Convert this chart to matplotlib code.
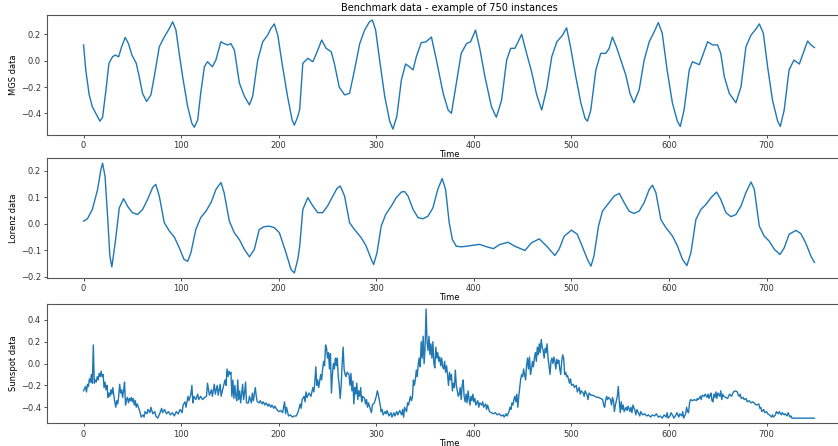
import matplotlib
matplotlib.use("Agg")
import matplotlib.pyplot as plt

# ---------------------------------------------------------------- data
mgs_t = [0, 2.4, 5.8, 9, 12.6, 16.8, 19.5, 23, 26, 29.7, 32.5, 36, 39, 42.7, 46, 49.6,
         54, 57, 60.5, 64.6, 69, 72.5, 77.6, 82.7, 87.9, 91.3, 94.7, 98, 101.5, 106.7,
         111, 113.5, 117, 120, 123.8, 127, 132, 135.6, 140.7, 144, 147.7, 151, 154.6,
         159.7, 164.8, 170, 173.3, 178.5, 183.6, 188.7, 192, 195.5, 199, 204, 209,
         213.7, 216, 219.5, 221.5, 224.7, 229.8, 235, 240, 244, 248.6, 253.8, 257, 262,
         267.5, 272.6, 277.7, 283, 288, 293, 296, 299.3, 303.4, 308.6, 313.7, 317, 321,
         325.7, 330, 334, 337.7, 341, 346, 351, 356.5, 361.6, 368.5, 373.6, 377, 382,
         387, 392.5, 396.6, 401.7, 406, 411.3, 418, 423, 428.4, 433.6, 437.7, 442, 449,
         454, 459, 464.4, 469.5, 474.7, 479.8, 485, 490.5, 495, 499, 504.4, 509.6, 514,
         516.4, 519.8, 525, 530, 535.2, 538.6, 542, 546, 550.6, 555.7, 560, 564, 569.4,
         574.5, 579.7, 584.8, 589, 593, 598, 603.4, 608.5, 611.5, 615.4, 620.7, 624,
         631, 634, 639.5, 644.6, 649.7, 653, 656.6, 661.7, 668.5, 673.7, 678.8, 684,
         689, 692.5, 696.6, 701, 706, 711.3, 714, 718, 723, 728, 733.5, 738.6, 742,
         745.5, 749]
mgs_y = [0.12, -0.08, -0.26, -0.35, -0.40, -0.46, -0.43, -0.22, -0.02, 0.03, 0.043, 0.03,
         0.106, 0.177, 0.13, 0.043, -0.02, -0.12, -0.25, -0.31, -0.26, -0.12, 0.106,
         0.18, 0.245, 0.296, 0.233, 0.056, -0.12, -0.35, -0.476, -0.506, -0.45, -0.25,
         -0.046, -0.008, -0.046, 0.005, 0.144, 0.13, 0.12, 0.13, 0.08, -0.17, -0.27,
         -0.336, -0.27, 0.005, 0.144, 0.195, 0.245, 0.28, 0.195, -0.046, -0.27, -0.45,
         -0.49, -0.425, -0.37, -0.02, 0.018, -0.008, 0.08, 0.157, 0.094, 0.068, -0.02,
         -0.2, -0.26, -0.248, -0.07, 0.13, 0.233, 0.296, 0.309, 0.233, 0.005, -0.27,
         -0.46, -0.52, -0.425, -0.147, -0.025, -0.046, -0.07, 0.03, 0.137, 0.144, 0.18,
         0.005, -0.248, -0.375, -0.4, -0.17, 0.056, 0.13, 0.144, 0.233, 0.094, -0.12,
         -0.35, -0.43, -0.3, 0.005, 0.094, 0.094, 0.2, 0.056, -0.08, -0.26, -0.375,
         -0.21, 0.03, 0.144, 0.19, 0.25, 0.106, -0.12, -0.32, -0.44, -0.46, -0.375,
         -0.07, 0.056, 0.056, 0.094, 0.18, 0.106, 0.005, -0.11, -0.25, -0.32, -0.22,
         0.005, 0.144, 0.22, 0.29, 0.21, -0.07, -0.32, -0.46, -0.5, -0.375, -0.07,
         -0.008, -0.03, 0.03, 0.144, 0.12, 0.12, 0.056, -0.12, -0.248, -0.32, -0.2,
         0.106, 0.195, 0.24, 0.28, 0.21, -0.046, -0.3, -0.46, -0.5, -0.375, -0.07,
         0.005, -0.025, 0.08, 0.15, 0.12, 0.1]

lor_t = [0, 4, 9, 14.4, 17.8, 19.5, 22, 24.6, 27, 29, 32.5, 36.6, 41, 45, 50, 55.4, 60.5,
         65.6, 70.8, 74, 77.6, 82.7, 88, 93, 98, 103, 106.7, 110, 115, 120, 125.5,
         130.6, 135.7, 140.8, 144, 149.4, 154.5, 159.7, 164.8, 170, 175, 180, 185,
         190.4, 195.6, 200.7, 207.5, 212.6, 216, 219.5, 221.5, 224.7, 229.8, 235, 240,
         245, 250, 255.5, 259.6, 263, 267.5, 272.6, 277.7, 284.6, 289.7, 294.9, 297.3,
         300.7, 305, 309.6, 315.4, 320.5, 325.7, 329, 332.5, 337.7, 342.8, 348, 353,
         358, 363, 367.5, 371, 374.7, 378, 382, 387, 392.5, 399.3, 406, 413, 420,
         426.7, 435, 442, 452.4, 459, 467, 474.7, 483, 487.5, 492.5, 500, 506, 511,
         516.4, 520, 523, 527.7, 531.8, 538.6, 543.8, 549, 554, 559, 564, 569.4,
         574.5, 579.7, 583, 586.5, 591.6, 596.8, 603.6, 608.7, 613.8, 618.3, 622.4,
         627.5, 632.6, 637.8, 643, 648.7, 653, 658.3, 663.4, 668.5, 673.7, 678.8, 684,
         687.4, 692.5, 697.6, 702.7, 708, 713.7, 718, 723, 730, 735, 740, 745.5, 749]
lor_y = [0.01, 0.019, 0.054, 0.13, 0.206, 0.229, 0.18, 0.03, -0.123, -0.163, -0.07, 0.06,
         0.095, 0.067, 0.042, 0.035, 0.054, 0.092, 0.137, 0.149, 0.105, 0.004, -0.028,
         -0.05, -0.09, -0.135, -0.142, -0.11, -0.022, 0.023, 0.048, 0.08, 0.13, 0.156,
         0.118, 0.01, -0.034, -0.06, -0.097, -0.125, -0.097, -0.022, -0.011, -0.009,
         -0.015, -0.034, -0.11, -0.173, -0.186, -0.135, -0.085, 0.054, 0.099, 0.067,
         0.042, 0.042, 0.067, 0.105, 0.133, 0.143, 0.105, 0.004, -0.022, -0.053,
         -0.085, -0.135, -0.154, -0.11, -0.009, 0.035, 0.067, 0.099, 0.12, 0.122,
         0.105, 0.054, 0.023, 0.019, 0.029, 0.06, 0.13, 0.171, 0.13, 0.004, -0.06,
         -0.085, -0.087, -0.085, -0.081, -0.078, -0.087, -0.094, -0.078, -0.07,
         -0.085, -0.101, -0.072, -0.057, -0.085, -0.12, -0.095, -0.047, -0.024, -0.04,
         -0.085, -0.135, -0.16, -0.123, -0.009, 0.048, 0.08, 0.105, 0.115, 0.08, 0.048,
         0.039, 0.048, 0.08, 0.13, 0.146, 0.118, 0.016, -0.015, -0.047, -0.085,
         -0.135, -0.158, -0.11, 0.016, 0.054, 0.073, 0.099, 0.12, 0.092, 0.042, 0.027,
         0.035, 0.067, 0.118, 0.158, 0.13, -0.009, -0.047, -0.066, -0.097, -0.116,
         -0.091, -0.04, -0.025, -0.037, -0.072, -0.123, -0.146]

sun_t = [0, 2, 3, 4, 5, 6, 7, 8, 9, 10, 11, 12, 13, 14, 15, 16, 17, 18, 19, 20, 21, 22, 23,
         24, 25, 26, 27, 28, 29, 30, 31, 32, 33, 34, 35, 36, 37, 38, 39, 40, 41, 42, 43,
         44, 45, 46, 47, 48, 49, 50, 51, 52, 53, 54, 55, 57, 58, 59, 61, 62, 63, 65, 66,
         68, 69, 71, 73, 74, 76, 78, 80, 81, 83, 85, 87, 89, 91, 93, 95, 97, 99, 101,
         102, 104, 105, 107, 108, 110, 111, 112, 113, 115, 117, 118, 120, 122, 124,
         126, 127, 129, 131, 132, 134, 135, 137, 138, 140, 141, 143, 145, 146, 147,
         148, 149, 150, 151, 152, 153, 154, 155, 156, 157, 158, 159, 160, 161, 163,
         164, 165, 166, 167, 169, 170, 172, 173, 174, 176, 177, 178, 180, 181, 183,
         184, 186, 187, 189, 190, 192, 193, 195, 196, 198, 200, 202, 204, 206, 207,
         208, 210, 212, 214, 216, 218,
         220, 222, 223, 224, 226, 227, 228, 229, 231, 233, 235, 236, 237, 238, 239,
         240, 241, 243, 244, 245, 246, 247, 248, 249, 250, 251, 252, 253, 254, 255,
         256, 257, 258, 259, 260, 261, 262, 263, 264, 265, 266, 267, 268, 269, 270,
         271, 272, 273, 274, 275, 276, 277, 278, 279, 280, 281, 282, 283, 284, 285,
         286, 288, 289, 290, 291, 292, 294, 295, 296, 298, 299, 300, 301, 302, 303,
         304, 305, 306, 307, 309, 310, 311, 313, 315, 316, 318, 319, 321, 322, 324,
         326, 327, 328, 329, 331, 332, 333, 335, 336, 337, 338, 339, 340, 341, 342,
         343, 344, 345, 346, 347, 348, 349, 350, 351, 352, 353, 354, 355, 356, 357,
         358, 359, 360, 361, 362, 363, 364, 365, 366, 367, 368, 369, 370, 371, 372,
         373, 374, 375, 376, 377, 378, 379, 380, 381, 382, 383, 384, 385, 386, 387,
         388, 389, 390, 391, 392, 393, 394, 395, 396, 397, 398, 399, 400, 401, 402,
         404, 405, 406, 408, 409, 410, 412, 413, 414, 416, 418, 420, 422, 424, 426,
         428, 430, 431, 433, 434, 436, 437, 438, 439, 440, 441, 442, 443, 444, 445,
         446, 447, 448, 449, 450, 451, 452, 453, 454, 455, 456, 457, 458, 459, 460,
         461, 462, 463, 464, 465, 466, 467, 468, 469, 470, 471, 472, 473, 474, 475,
         476, 477, 478, 479, 480, 481, 482, 483, 484, 485, 486, 487, 488, 489, 490,
         491, 492, 493, 494, 495, 496, 498, 499, 500, 502, 503, 505, 506, 508, 509,
         510, 512, 513, 514, 516, 517, 518, 520, 522, 524, 526, 528, 530, 532, 533,
         534, 535, 536, 537, 538, 540, 541, 542, 543, 544, 545, 547, 548, 549, 550,
         551, 552, 553, 554, 556, 557, 558, 560, 561, 562, 563, 565, 566, 567, 569,
         570, 571, 573, 575, 577, 579, 581, 583, 585, 587, 589, 591, 593, 595, 597,
         598, 599, 601, 602, 604, 605, 607, 608, 610, 611, 613, 614, 615, 617, 618,
         619, 620, 621, 622, 624, 626, 628, 629, 630, 632, 633, 634, 636, 637, 639,
         640, 641, 642, 643, 644, 645, 646, 647, 648, 649, 650, 652, 653, 654, 655,
         656, 658, 660, 662, 664, 666, 668, 670, 671, 672, 673, 674, 676, 677, 679,
         680, 682, 684, 686, 688, 690, 692, 693, 694, 695, 697, 698, 700, 701, 703,
         705, 706, 707, 709, 710, 712, 713, 715, 716, 718, 719, 721, 722, 724, 725,
         726, 749]
sun_y = [-0.25, -0.21, -0.26, -0.19, -0.21, -0.14, -0.17, -0.10, -0.18, 0.17, -0.18, -0.15,
         -0.17, -0.12, -0.15, -0.09, -0.12, -0.07, -0.12, -0.10, -0.22, -0.17, -0.24,
         -0.20, -0.31, -0.27, -0.30, -0.24, -0.28, -0.22, -0.29, -0.35, -0.40, -0.34,
         -0.37, -0.30, -0.19, -0.27, -0.24, -0.31, -0.25, -0.17, -0.38, -0.33, -0.31,
         -0.36, -0.32, -0.34, -0.31, -0.35, -0.32, -0.38, -0.34, -0.40, -0.37, -0.42,
         -0.45, -0.49, -0.47, -0.49, -0.44, -0.46, -0.42, -0.45, -0.40, -0.46, -0.44,
         -0.48, -0.50, -0.46, -0.41, -0.45, -0.42, -0.46, -0.44, -0.47, -0.45, -0.48,
         -0.44, -0.46, -0.42, -0.45, -0.38, -0.35, -0.40, -0.30, -0.34, -0.28, -0.20,
         -0.36, -0.30, -0.33, -0.28, -0.33, -0.30, -0.33, -0.31, -0.30, -0.18, -0.29,
         -0.24, -0.30, -0.19, -0.28, -0.20, -0.29, -0.19, -0.30, -0.22, -0.15, -0.20,
         -0.05, -0.12, -0.07, -0.10, -0.08, -0.30, -0.15, -0.32, -0.20, -0.30, -0.34,
         -0.15, -0.33, -0.25, -0.36, -0.19, -0.33, -0.27, -0.17, -0.36, -0.36, -0.30,
         -0.36, -0.27, -0.34, -0.22, -0.30, -0.35, -0.36, -0.34, -0.37, -0.35, -0.38,
         -0.36, -0.39, -0.37, -0.40, -0.38, -0.41, -0.39, -0.42, -0.44, -0.43, -0.45,
         -0.35, -0.46, -0.40, -0.48, -0.47, -0.49, -0.48, -0.48,
         -0.44, -0.37, -0.41, -0.33, -0.30, -0.35, -0.26, -0.31, -0.27,
         -0.30, -0.22, -0.26, -0.17, -0.03, -0.20, -0.15, -0.22, -0.10, -0.15, -0.05,
         0.02, -0.02, 0.17, 0.14, 0.05, 0.10, -0.05, 0.09, -0.27, -0.10, 0.00, -0.05,
         0.05, -0.02, 0.05, -0.12, -0.20, -0.32, -0.20, 0.00, 0.15, -0.05, -0.10,
         -0.12, -0.08, -0.09, -0.10, -0.20, -0.09, -0.25, -0.16, -0.37, -0.22, -0.28,
         -0.18, -0.33, -0.25, -0.30, -0.22, -0.35, -0.30, -0.32, -0.37, -0.33, -0.40,
         -0.36, -0.42, -0.45, -0.38, -0.36, -0.33, -0.30, -0.25, -0.28, -0.33, -0.38,
         -0.44, -0.42, -0.47, -0.44, -0.46, -0.43, -0.48, -0.45, -0.49, -0.45, -0.48,
         -0.44, -0.47, -0.43, -0.47, -0.42, -0.49, -0.40, -0.44, -0.36, -0.38, -0.30,
         -0.34, -0.31, -0.15, -0.20, -0.15, -0.06, -0.12, 0.00, 0.05, -0.03, 0.20,
         0.05, 0.25, 0.00, 0.15, 0.50, 0.20, 0.12, 0.25, 0.08, 0.18, 0.05, 0.20, 0.00,
         -0.04, 0.15, 0.05, 0.10, 0.02, 0.06, -0.02, 0.05, -0.03, -0.05, 0.02, -0.08,
         -0.02, -0.10, -0.20, -0.08, -0.15, -0.10, -0.25, -0.18, -0.22, -0.06, -0.20,
         -0.25, -0.30, -0.28, -0.22, -0.33, -0.20, -0.15, -0.30, -0.35, -0.28, -0.36,
         -0.25, -0.32, -0.38, -0.30, -0.34, -0.28, -0.35, -0.32, -0.38, -0.34, -0.40,
         -0.36, -0.38, -0.35, -0.40, -0.37, -0.42, -0.38, -0.44, -0.45, -0.46, -0.45,
         -0.47, -0.46, -0.48, -0.47, -0.49, -0.46, -0.48, -0.44, -0.40, -0.42, -0.36,
         -0.38, -0.33, -0.30, -0.35, -0.28, -0.40, -0.30, -0.22, -0.14, -0.10, -0.12,
         -0.05, -0.10, -0.15, -0.02, 0.05, -0.05, 0.06, -0.10, -0.05, 0.02, -0.03, 0.05,
         0.10, 0.02, 0.15, 0.08, 0.18, 0.10, 0.22, 0.15, 0.12, 0.05, 0.14, 0.10, 0.18,
         0.05, -0.02, -0.10, 0.02, 0.05, 0.00, 0.06, 0.02, -0.05, 0.04, 0.00, 0.03,
         -0.05, -0.10, 0.02, 0.08, 0.05, -0.10, -0.08, -0.12, -0.11, -0.18, -0.14,
         -0.20, -0.19, -0.22, -0.20, -0.26, -0.22, -0.28, -0.25, -0.27, -0.30, -0.25,
         -0.29, -0.33, -0.27, -0.29, -0.29, -0.30, -0.31, -0.31, -0.32, -0.33, -0.38,
         -0.40, -0.34, -0.30, -0.33, -0.31, -0.33, -0.38, -0.31, -0.34, -0.44, -0.38,
         -0.30, -0.21, -0.35, -0.45, -0.35, -0.42, -0.38, -0.44, -0.40, -0.43, -0.39,
         -0.44, -0.40, -0.45, -0.38, -0.43, -0.47, -0.42, -0.46, -0.48, -0.44, -0.47,
         -0.46, -0.48, -0.47, -0.49, -0.47, -0.48, -0.46, -0.49, -0.48, -0.50, -0.47,
         -0.49, -0.45, -0.50, -0.48, -0.45, -0.48, -0.50, -0.47, -0.45, -0.49, -0.46,
         -0.48, -0.44, -0.50, -0.46, -0.40, -0.44, -0.45, -0.36, -0.33, -0.34, -0.33,
         -0.34, -0.32, -0.33, -0.30, -0.33, -0.29, -0.30, -0.28, -0.31, -0.28, -0.32,
         -0.29, -0.27, -0.34, -0.35, -0.28, -0.31, -0.26, -0.32, -0.27, -0.30, -0.25,
         -0.33, -0.28, -0.30, -0.31, -0.32, -0.28, -0.30, -0.26, -0.25, -0.26, -0.29,
         -0.30, -0.28, -0.32, -0.31, -0.33, -0.32, -0.35, -0.34, -0.36, -0.35, -0.37,
         -0.38, -0.37, -0.41, -0.40, -0.44, -0.42, -0.45, -0.44, -0.46, -0.47, -0.49,
         -0.47, -0.49, -0.47, -0.44, -0.46, -0.44, -0.47, -0.45, -0.47, -0.46, -0.48,
         -0.45, -0.49, -0.48, -0.50, -0.50]

series = [(mgs_t, mgs_y, "MGS data"),
          (lor_t, lor_y, "Lorenz data"),
          (sun_t, sun_y, "Sunspot data")]

# ---------------------------------------------------------------- plot
plt.rcParams['font.size'] = 6.0
plt.rcParams['axes.linewidth'] = 0.8
plt.rcParams['axes.edgecolor'] = '#555555'
plt.rcParams['xtick.major.size'] = 2.5
plt.rcParams['ytick.major.size'] = 2.5
plt.rcParams['xtick.major.width'] = 0.6
plt.rcParams['ytick.major.width'] = 0.6
plt.rcParams['xtick.color'] = '#333333'
plt.rcParams['ytick.color'] = '#333333'

fig = plt.figure(figsize=(8.38, 4.46), dpi=100)

# axes run past the right edge, like the cropped original
bottoms = [0.6973, 0.3767, 0.0509]
axes = []
for (t, y, lab), b in zip(series, bottoms):
    ax = fig.add_axes([0.0561, b, 0.9594, 0.268])
    ax.plot(t, y, color='#1f77b4', linewidth=1.0)
    ax.set_xlabel("Time", labelpad=0)
    ax.set_ylabel(lab, labelpad=2)
    ax.set_xticks([0, 100, 200, 300, 400, 500, 600, 700])
    ax.set_xlim(-37.45, 786.45)
    ax.tick_params(pad=2)
    axes.append(ax)

axes[0].set_yticks([-0.4, -0.2, 0.0, 0.2])
axes[0].set_ylim(-0.565, 0.344)
axes[1].set_yticks([-0.2, -0.1, 0.0, 0.1, 0.2])
axes[1].set_ylim(-0.205, 0.247)
axes[2].set_yticks([-0.4, -0.2, 0.0, 0.2, 0.4])
axes[2].set_ylim(-0.547, 0.547)

axes[0].set_title("Benchmark data - example of 750 instances", fontsize=7.0, pad=3)

fig.savefig("out.png", dpi=100)
